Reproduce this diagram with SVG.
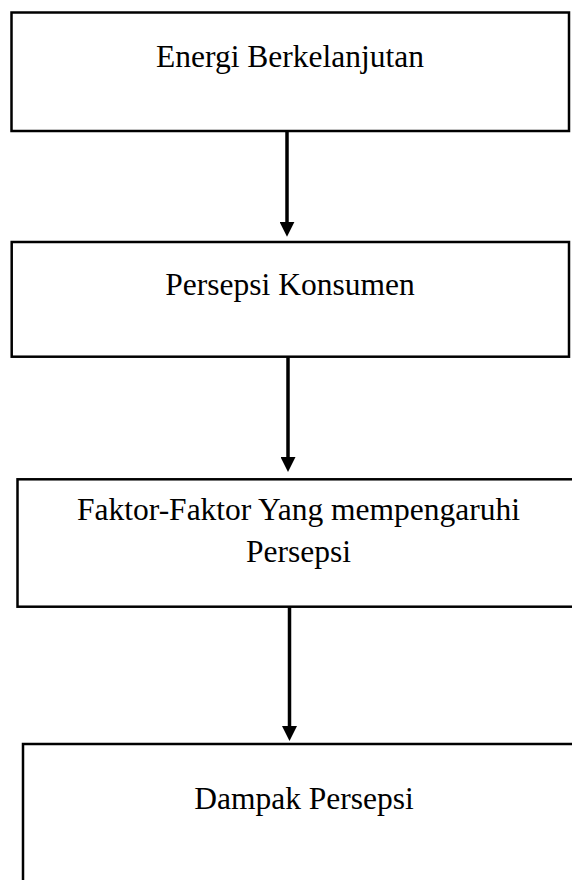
<svg xmlns="http://www.w3.org/2000/svg" width="572" height="880" viewBox="0 0 572 880">
  <style>
    .box { fill: #ffffff; stroke: #000000; stroke-width: 2.5; }
    .lbl { font-family: "Liberation Serif", "Times New Roman", serif; font-size: 31.5px; fill: #000000; text-anchor: middle; }
    .conn { stroke: #000000; stroke-width: 3.5; fill: none; }
  </style>
  <defs>
    <marker id="arrow" markerUnits="userSpaceOnUse" markerWidth="15" markerHeight="15" refX="3" refY="7.5" orient="auto">
      <path d="M0,0 L15,7.5 L0,15 Z" fill="#000000"/>
    </marker>
  </defs>
  <rect width="572" height="880" fill="#ffffff"/>
  <g id="node-energi">
    <rect class="box" x="11.5" y="12.5" width="557.5" height="118.5"/>
    <text class="lbl" x="290" y="66.5">Energi Berkelanjutan</text>
  </g>
  <g id="node-persepsi-konsumen">
    <rect class="box" x="11.7" y="242" width="557.3" height="114.7"/>
    <text class="lbl" x="290" y="295">Persepsi Konsumen</text>
  </g>
  <g id="node-faktor">
    <rect class="box" x="17.5" y="479.3" width="570" height="127.4"/>
    <text class="lbl" x="298.5" y="520">Faktor-Faktor Yang mempengaruhi</text>
    <text class="lbl" x="298.5" y="561.5">Persepsi</text>
  </g>
  <g id="node-dampak">
    <rect class="box" x="23" y="744" width="570" height="160"/>
    <text class="lbl" x="304" y="809">Dampak Persepsi</text>
  </g>
  <g id="connectors">
    <line class="conn" x1="287" y1="131" x2="287" y2="224.7" marker-end="url(#arrow)"/>
    <line class="conn" x1="288" y1="356.7" x2="288" y2="460" marker-end="url(#arrow)"/>
    <line class="conn" x1="289.5" y1="606.7" x2="289.5" y2="729" marker-end="url(#arrow)"/>
  </g>
</svg>
